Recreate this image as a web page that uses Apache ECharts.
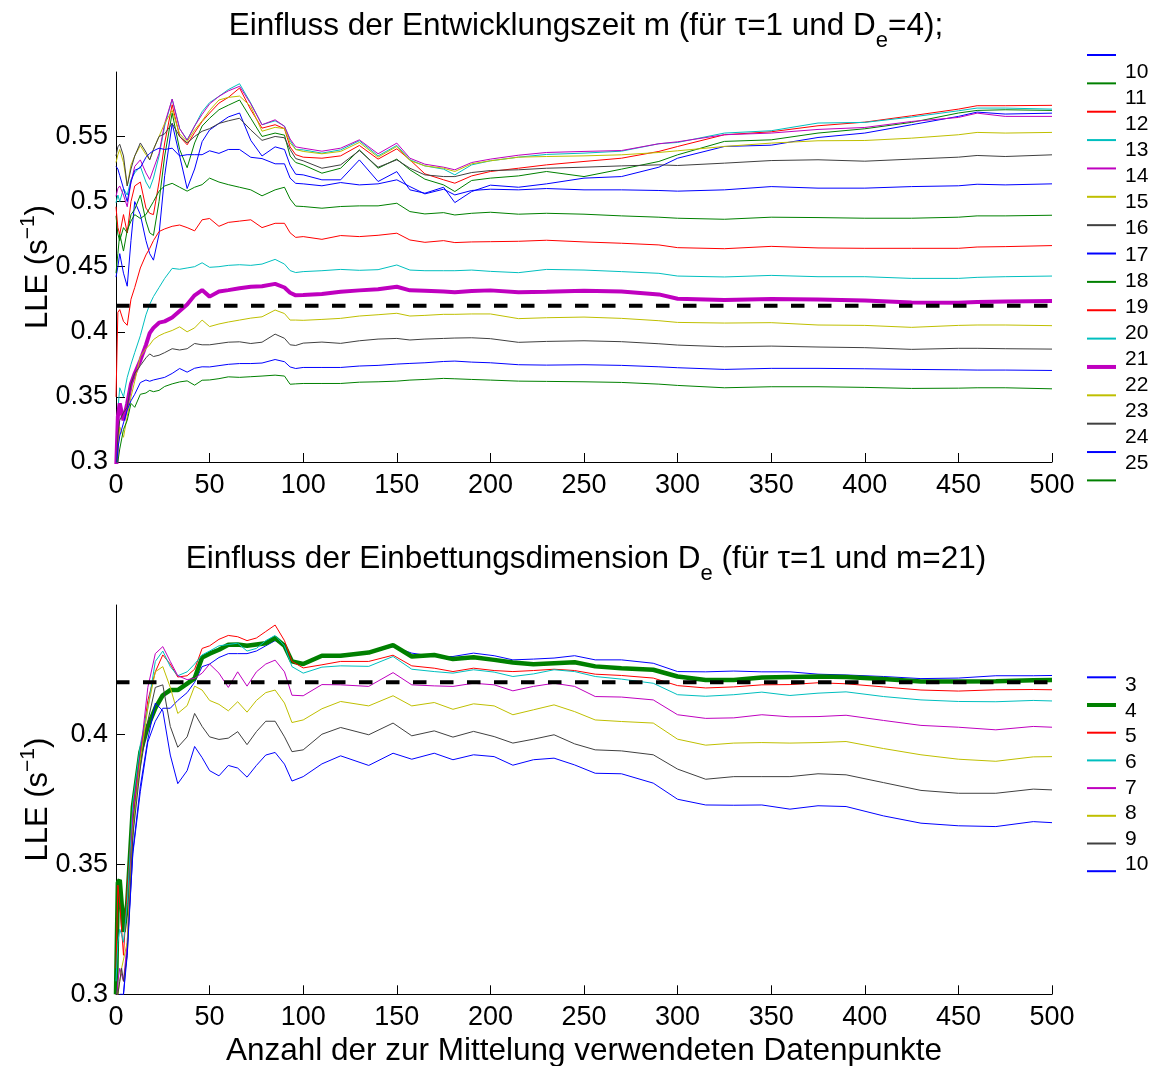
<!DOCTYPE html>
<html>
<head>
<meta charset="utf-8">
<title>LLE</title>
<script src="https://cdn.jsdelivr.net/npm/echarts@6/dist/echarts.min.js"></script>
<style>
html, body { margin: 0; padding: 0; background: #fff; }
#main { width: 1156px; height: 1066px; }
</style>
</head>
<body>
<div id="main"></div>
<script>
var xTop = [0, 1, 2, 4, 6, 8, 10, 13, 16, 18, 20, 23, 26, 30, 34, 38, 42, 46, 50, 55, 60,
    66, 72, 78, 85, 90, 93, 96, 100, 110, 120, 130, 140, 150, 157, 165, 175, 181, 190, 200,
    215, 230, 250, 270, 290, 300, 325, 350, 375, 400, 425, 450, 460, 475, 500];

// upper plot: Entwicklungszeit m = 10 ... 25
var m10 = [0.442, 0.45, 0.46, 0.445, 0.435, 0.47, 0.50, 0.49, 0.47, 0.46, 0.455, 0.475, 0.52, 0.560,
    0.535, 0.510, 0.525, 0.546, 0.555, 0.560, 0.565, 0.568, 0.547, 0.535, 0.542, 0.540, 0.528, 0.521,
    0.5205, 0.5167, 0.5167, 0.532, 0.5154, 0.523, 0.509, 0.5064, 0.511, 0.4992, 0.5077, 0.5126, 0.511, 0.5136,
    0.518, 0.5192, 0.5264, 0.5333, 0.5423, 0.5433, 0.5492, 0.5526, 0.559, 0.5654, 0.5687, 0.5672, 0.5679];
var m11 = [0.489, 0.475, 0.47, 0.48, 0.476, 0.49, 0.494, 0.505, 0.485, 0.476, 0.474, 0.50, 0.535, 0.568,
    0.54, 0.526, 0.545, 0.558, 0.564, 0.5705, 0.574, 0.578, 0.564, 0.55, 0.5526, 0.551, 0.535, 0.530,
    0.5282, 0.5218, 0.5256, 0.5397, 0.5256, 0.5326, 0.5244, 0.5172, 0.5128, 0.5077, 0.5162, 0.518, 0.5197, 0.5231,
    0.5192, 0.5249, 0.5308, 0.5359, 0.5462, 0.5474, 0.5526, 0.5559, 0.5608, 0.568, 0.570, 0.5705, 0.570];
var m12 = [0.496, 0.48, 0.475, 0.49, 0.476, 0.50, 0.512, 0.515, 0.495, 0.491, 0.49, 0.515, 0.545, 0.5744,
    0.55, 0.5436, 0.553, 0.5615, 0.568, 0.5756, 0.580, 0.5872, 0.5705, 0.5564, 0.559, 0.556, 0.542, 0.536,
    0.5341, 0.5333, 0.5351, 0.5431, 0.5326, 0.5405, 0.5321, 0.5213, 0.5167, 0.5141, 0.5197, 0.5231, 0.5256, 0.5282,
    0.5308, 0.5333, 0.5385, 0.5423, 0.5513, 0.5536, 0.5582, 0.561, 0.5659, 0.571, 0.5736, 0.5736, 0.5739];
var m13 = [0.499, 0.505, 0.50, 0.51, 0.505, 0.517, 0.522, 0.527, 0.515, 0.51, 0.518, 0.535, 0.558, 0.5787,
    0.556, 0.5474, 0.558, 0.569, 0.576, 0.5808, 0.586, 0.5905, 0.5756, 0.559, 0.562, 0.558, 0.547, 0.540,
    0.5397, 0.5372, 0.5397, 0.5467, 0.5351, 0.5431, 0.5321, 0.5274, 0.5249, 0.5205, 0.5282, 0.5313, 0.5341, 0.5362,
    0.5372, 0.5387, 0.5444, 0.5454, 0.5526, 0.5544, 0.5603, 0.5608, 0.5649, 0.5697, 0.5718, 0.5718, 0.571];
var m14 = [0.504, 0.51, 0.512, 0.505, 0.496, 0.515, 0.527, 0.532, 0.522, 0.517, 0.525, 0.537, 0.560, 0.5787,
    0.556, 0.547, 0.558, 0.567, 0.575, 0.5808, 0.585, 0.5885, 0.575, 0.559, 0.5628, 0.5577, 0.548, 0.542,
    0.541, 0.5387, 0.541, 0.5474, 0.5367, 0.5449, 0.5333, 0.5287, 0.5264, 0.5244, 0.530, 0.5326, 0.5356, 0.5377,
    0.5385, 0.5392, 0.5444, 0.5459, 0.5513, 0.5526, 0.5554, 0.5569, 0.5615, 0.5646, 0.5679, 0.5654, 0.5654];
var m15 = [0.530, 0.536, 0.540, 0.530, 0.512, 0.528, 0.535, 0.543, 0.536, 0.532, 0.540, 0.550, 0.560, 0.570,
    0.552, 0.546, 0.555, 0.562, 0.570, 0.578, 0.580, 0.581, 0.573, 0.554, 0.557, 0.556, 0.545, 0.540,
    0.5385, 0.5367, 0.5385, 0.5454, 0.5341, 0.5423, 0.5315, 0.5274, 0.5256, 0.5231, 0.529, 0.5313, 0.5341, 0.5346,
    0.5351, 0.5359, 0.5377, 0.539, 0.5423, 0.5449, 0.5467, 0.5469, 0.5487, 0.5513, 0.5531, 0.5526, 0.5531];
var m16 = [0.535, 0.542, 0.544, 0.535, 0.512, 0.525, 0.535, 0.545, 0.538, 0.532, 0.540, 0.550, 0.552, 0.560,
    0.550, 0.545, 0.550, 0.554, 0.556, 0.560, 0.562, 0.564, 0.555, 0.547, 0.550, 0.549, 0.540, 0.533,
    0.5313, 0.5256, 0.5282, 0.5392, 0.5264, 0.5321, 0.5256, 0.5205, 0.5192, 0.5192, 0.5223, 0.5238, 0.5244, 0.5256,
    0.5264, 0.5274, 0.5282, 0.5277, 0.5295, 0.5315, 0.5321, 0.531, 0.5326, 0.5341, 0.5354, 0.5346, 0.5359];
var m17 = [0.527, 0.525, 0.52, 0.51, 0.50, 0.515, 0.524, 0.526, 0.534, 0.537, 0.539, 0.541, 0.54, 0.541,
    0.535, 0.536, 0.536, 0.536, 0.539, 0.537, 0.540, 0.540, 0.534, 0.533, 0.529, 0.529, 0.518, 0.514,
    0.5136, 0.5121, 0.5146, 0.5128, 0.5136, 0.5167, 0.5115, 0.5059, 0.5095, 0.5051, 0.5085, 0.5095, 0.509, 0.51,
    0.509, 0.509, 0.5085, 0.508, 0.509, 0.5115, 0.5103, 0.5103, 0.5115, 0.5121, 0.5133, 0.5128, 0.5136];
var m18 = [0.445, 0.46, 0.475, 0.462, 0.478, 0.485, 0.49, 0.487, 0.49, 0.495, 0.50, 0.508, 0.512, 0.514,
    0.511, 0.508, 0.511, 0.513, 0.518, 0.515, 0.513, 0.511, 0.509, 0.5044, 0.509, 0.511, 0.502, 0.4965,
    0.4962, 0.4949, 0.4962, 0.4967, 0.4967, 0.4987, 0.4923, 0.4905, 0.4915, 0.4897, 0.491, 0.4918, 0.4903, 0.491,
    0.4903, 0.489, 0.488, 0.4872, 0.4864, 0.488, 0.4877, 0.4872, 0.4872, 0.488, 0.489, 0.489, 0.4895];
var m19 = [0.35, 0.415, 0.417, 0.408, 0.405, 0.425, 0.434, 0.449, 0.459, 0.464, 0.470, 0.477, 0.479, 0.481,
    0.482, 0.480, 0.4775, 0.486, 0.487, 0.481, 0.484, 0.485, 0.486, 0.480, 0.4833, 0.4833, 0.476, 0.4725,
    0.4731, 0.471, 0.4739, 0.4731, 0.4741, 0.4757, 0.4705, 0.4687, 0.470, 0.4685, 0.469, 0.4692, 0.4695, 0.4703,
    0.469, 0.468, 0.4667, 0.4646, 0.4638, 0.4656, 0.4644, 0.4641, 0.4641, 0.4641, 0.4651, 0.4654, 0.4662];
var m20 = [0.30, 0.34, 0.357, 0.35, 0.365, 0.375, 0.384, 0.397, 0.413, 0.421, 0.427, 0.434, 0.441, 0.4487,
    0.448, 0.449, 0.450, 0.453, 0.4495, 0.450, 0.451, 0.4515, 0.451, 0.452, 0.4556, 0.452, 0.447, 0.4455,
    0.4462, 0.4469, 0.4479, 0.4472, 0.4477, 0.4513, 0.4474, 0.4469, 0.4469, 0.4469, 0.4474, 0.4464, 0.4454, 0.4479,
    0.4474, 0.4462, 0.4449, 0.4428, 0.4421, 0.4433, 0.4423, 0.4423, 0.441, 0.441, 0.4418, 0.4423, 0.4428];
var m21 = [0.29, 0.335, 0.345, 0.332, 0.345, 0.36, 0.368, 0.378, 0.39, 0.399, 0.403, 0.407, 0.408, 0.411,
    0.416, 0.421, 0.428, 0.432, 0.427, 0.431, 0.432, 0.4335, 0.4345, 0.435, 0.4368, 0.434, 0.430, 0.428,
    0.4282, 0.429, 0.4308, 0.4318, 0.4326, 0.4346, 0.4318, 0.4315, 0.431, 0.4303, 0.4313, 0.4318, 0.4303, 0.4308,
    0.4316, 0.431, 0.4287, 0.4254, 0.4244, 0.4251, 0.4247, 0.424, 0.4225, 0.4223, 0.4228, 0.4232, 0.4236];
var m22 = [0.29, 0.31, 0.327, 0.319, 0.335, 0.35, 0.362, 0.381, 0.387, 0.39, 0.394, 0.397, 0.399, 0.401,
    0.4038, 0.40, 0.403, 0.409, 0.404, 0.406, 0.4075, 0.409, 0.4105, 0.4115, 0.4167, 0.414, 0.409, 0.409,
    0.4088, 0.4095, 0.4103, 0.4121, 0.4131, 0.4142, 0.4121, 0.4126, 0.4134, 0.4134, 0.4137, 0.4137, 0.4101, 0.4108,
    0.4113, 0.4103, 0.4085, 0.4072, 0.4067, 0.407, 0.4052, 0.4049, 0.4034, 0.4049, 0.4052, 0.4052, 0.4047];
var m23 = [0.29, 0.32, 0.332, 0.338, 0.342, 0.36, 0.368, 0.374, 0.38, 0.383, 0.381, 0.382, 0.384, 0.387,
    0.386, 0.387, 0.391, 0.39, 0.39, 0.391, 0.392, 0.3923, 0.391, 0.392, 0.3982, 0.395, 0.39, 0.3895,
    0.3913, 0.3921, 0.3911, 0.3931, 0.3944, 0.3949, 0.3937, 0.3944, 0.3949, 0.3952, 0.3954, 0.3947, 0.3919, 0.3926,
    0.3931, 0.3924, 0.3908, 0.3898, 0.3885, 0.389, 0.3883, 0.3878, 0.3865, 0.3873, 0.3873, 0.387, 0.3867];
var m24 = [0.29, 0.31, 0.32, 0.33, 0.34, 0.347, 0.352, 0.361, 0.363, 0.362, 0.363, 0.364, 0.365, 0.368,
    0.3718, 0.369, 0.372, 0.3731, 0.373, 0.374, 0.375, 0.3756, 0.3756, 0.376, 0.3787, 0.377, 0.373, 0.3718,
    0.3726, 0.3726, 0.3726, 0.3737, 0.3742, 0.3752, 0.3757, 0.3762, 0.3772, 0.3775, 0.3767, 0.3762, 0.3747, 0.3744,
    0.3747, 0.3742, 0.3731, 0.3724, 0.3711, 0.3719, 0.3719, 0.3716, 0.3711, 0.3708, 0.3706, 0.3706, 0.3703];
var m25 = [0.29, 0.30, 0.31, 0.325, 0.332, 0.345, 0.342, 0.352, 0.353, 0.355, 0.354, 0.355, 0.358, 0.36,
    0.3615, 0.3623, 0.359, 0.3628, 0.363, 0.364, 0.3654, 0.365, 0.3655, 0.366, 0.3667, 0.366, 0.3597, 0.36,
    0.3603, 0.3603, 0.3603, 0.3613, 0.3616, 0.3621, 0.3629, 0.3634, 0.3642, 0.3639, 0.3634, 0.3629, 0.3621, 0.3619,
    0.3616, 0.3611, 0.3598, 0.3588, 0.357, 0.3578, 0.3578, 0.3573, 0.3565, 0.3567, 0.357, 0.357, 0.3562];

var xBottom = [0, 1, 2, 3, 4, 6, 9, 13, 17, 21, 25, 29, 33, 38, 42, 46, 50, 55, 60, 65, 70,
    75, 80, 85, 90, 94, 100, 110, 120, 135, 148, 158, 170, 180, 191, 202, 212, 223, 234, 245, 256,
    270, 287, 300, 315, 330, 345, 360, 375, 390, 410, 430, 450, 470, 490, 500];

// lower plot: Einbettungsdimension De = 3 ... 10
var de3 = [0.29, 0.295, 0.30, 0.30, 0.30, 0.318, 0.354, 0.378, 0.397, 0.405, 0.410, 0.410, 0.413, 0.416,
    0.420, 0.426, 0.427, 0.4295, 0.431, 0.431, 0.431, 0.432, 0.434, 0.436, 0.434, 0.428, 0.427,
    0.4302, 0.4307, 0.4312, 0.4337, 0.4312, 0.4299, 0.4299, 0.4312, 0.4302, 0.4286, 0.4289, 0.4293, 0.4302, 0.4286,
    0.4286, 0.4273, 0.4241,
    0.424, 0.4243, 0.424, 0.424, 0.4231, 0.4228, 0.4222, 0.4214, 0.4216, 0.4225, 0.4225, 0.4226];
var de4 = [0.30, 0.343, 0.344, 0.335, 0.324, 0.335, 0.372, 0.393, 0.403, 0.410, 0.415, 0.417, 0.417, 0.4195,
    0.4215, 0.4295, 0.431, 0.4325, 0.4344, 0.4345, 0.434, 0.4345, 0.435, 0.437, 0.434, 0.428, 0.427,
    0.4302, 0.4302, 0.4314, 0.4343, 0.4299, 0.4305, 0.4289, 0.4296, 0.4286, 0.4276, 0.4269, 0.4273, 0.4277, 0.4261,
    0.4254, 0.4248, 0.4222,
    0.4209, 0.4209, 0.4218, 0.422, 0.4222, 0.422, 0.4212, 0.4203, 0.4203, 0.4204, 0.4208, 0.4209];
var de5 = [0.31, 0.342, 0.335, 0.325, 0.315, 0.34, 0.371, 0.392, 0.413, 0.424, 0.4305, 0.427, 0.422, 0.4225,
    0.425, 0.433, 0.434, 0.4365, 0.438, 0.4375, 0.436, 0.437, 0.4395, 0.442, 0.436, 0.428, 0.4255,
    0.4267, 0.428, 0.428, 0.4304, 0.4263, 0.4254, 0.4241, 0.4254, 0.4245, 0.4241, 0.4245, 0.425, 0.4245, 0.4231,
    0.4226, 0.4216, 0.4187,
    0.4178, 0.4182, 0.419, 0.4191, 0.4198, 0.4194, 0.4182, 0.417, 0.4166, 0.4171, 0.4172, 0.4171];
var de6 = [0.305, 0.32, 0.325, 0.323, 0.32, 0.335, 0.374, 0.396, 0.41, 0.428, 0.432, 0.426, 0.4225, 0.424,
    0.427, 0.4305, 0.432, 0.434, 0.4345, 0.435, 0.432, 0.433, 0.436, 0.438, 0.434, 0.426, 0.4235,
    0.4258, 0.4263, 0.4261, 0.4299, 0.425, 0.4241, 0.4235, 0.4248, 0.4239, 0.4222, 0.4232, 0.4248, 0.4241, 0.4222,
    0.4212, 0.4196, 0.4152,
    0.4146, 0.4152, 0.4162, 0.4149, 0.4158, 0.4163, 0.4145, 0.4132, 0.4126, 0.4125, 0.413, 0.4128];
var de7 = [0.295, 0.305, 0.31, 0.31, 0.305, 0.32, 0.369, 0.392, 0.418, 0.431, 0.4337, 0.428, 0.4225, 0.421,
    0.4215, 0.4235, 0.427, 0.4235, 0.418, 0.424, 0.4185, 0.424, 0.427, 0.4285, 0.424, 0.415, 0.4148,
    0.4191, 0.419, 0.4184, 0.4237, 0.419, 0.4186, 0.4184, 0.4196, 0.419, 0.4167, 0.4184, 0.4196, 0.4184, 0.4145,
    0.4143, 0.4132, 0.4075,
    0.4061, 0.4063, 0.4075, 0.4067, 0.4068, 0.4073, 0.4053, 0.4034, 0.4027, 0.4017, 0.403, 0.4027];
var de8 = [0.29, 0.30, 0.305, 0.31, 0.31, 0.32, 0.363, 0.39, 0.41, 0.424, 0.426, 0.418, 0.408, 0.411,
    0.4185, 0.417, 0.413, 0.4115, 0.409, 0.4125, 0.4085, 0.413, 0.416, 0.417, 0.412, 0.4045, 0.4055,
    0.4098, 0.4126, 0.4109, 0.4148, 0.4109, 0.4122, 0.4096, 0.4117, 0.4109, 0.4075, 0.4094, 0.4113, 0.4087, 0.4055,
    0.4049, 0.4043, 0.3981,
    0.3958, 0.3966, 0.3968, 0.3966, 0.3968, 0.3972, 0.3945, 0.3921, 0.3904, 0.3896, 0.3913, 0.3914];
var de9 = [0.29, 0.30, 0.305, 0.31, 0.305, 0.315, 0.361, 0.387, 0.405, 0.418, 0.419, 0.403, 0.395, 0.399,
    0.408, 0.403, 0.399, 0.398, 0.3985, 0.401, 0.396, 0.401, 0.405, 0.405, 0.399, 0.3933, 0.394,
    0.400, 0.4026, 0.3998, 0.4043, 0.3994, 0.4013, 0.3989, 0.4011, 0.3991, 0.3966, 0.3981, 0.3998, 0.3963, 0.394,
    0.3936, 0.3921, 0.3866,
    0.3827, 0.3837, 0.3837, 0.3837, 0.3848, 0.3844, 0.3814, 0.3784, 0.3773, 0.3773, 0.3789, 0.3786];
var de10 = [0.28, 0.29, 0.295, 0.298, 0.30, 0.315, 0.355, 0.38, 0.398, 0.412, 0.409, 0.392, 0.381, 0.386,
    0.3953, 0.391, 0.386, 0.384, 0.388, 0.387, 0.3835, 0.388, 0.392, 0.393, 0.3885, 0.382, 0.3837,
    0.3886, 0.3917, 0.388, 0.3927, 0.3904, 0.3927, 0.3902, 0.3921, 0.3914, 0.3881, 0.3902, 0.3908, 0.3882, 0.385,
    0.3848, 0.3812, 0.375,
    0.3728, 0.3727, 0.3728, 0.3712, 0.3725, 0.3722, 0.3686, 0.3658, 0.3648, 0.3645, 0.3664, 0.366];

var topLabels = ['10', '11', '12', '13', '14', '15', '16', '17', '18', '19', '20', '21', '22', '23', '24', '25'];
var topValues = [m10, m11, m12, m13, m14, m15, m16, m17, m18, m19, m20, m21, m22, m23, m24, m25];
var bottomLabels = ['3', '4', '5', '6', '7', '8', '9', '10'];
var bottomValues = [de3, de4, de5, de6, de7, de8, de9, de10];
var topHighlight = '21';
var bottomHighlight = '4';

var yTicksTop = [0.3, 0.35, 0.4, 0.45, 0.5, 0.55];
var yTicksBottom = [0.3, 0.35, 0.4];
var lleRef = 0.42;

var matlabColors = ['#0000ff', '#008000', '#ff0000', '#00bfbf', '#bf00bf', '#bfbf00', '#404040'];
var FONT = '"Liberation Sans", Arial, Helvetica, sans-serif';

var chart = echarts.init(document.getElementById('main'), null, { renderer: 'canvas' });

function pairs(xs, ys) {
    return xs.map(function (x, i) { return [x, ys[i]]; });
}

function curve(name, xs, ys, color, width, idx) {
    return {
        name: name,
        type: 'line',
        xAxisIndex: idx,
        yAxisIndex: idx,
        data: pairs(xs, ys),
        symbol: 'none',
        clip: true,
        silent: true,
        color: color,
        itemStyle: { color: color },
        lineStyle: { color: color, width: width },
        emphasis: { disabled: true }
    };
}

function refLine(idx) {
    return {
        type: 'line',
        xAxisIndex: idx,
        yAxisIndex: idx,
        data: [[0, lleRef], [500, lleRef]],
        symbol: 'none',
        silent: true,
        z: 5,
        lineStyle: { color: '#000', width: 4, type: [13.5, 13.5] }
    };
}

var series = [];
topLabels.forEach(function (lab, i) {
    series.push(curve('m' + lab, xTop, topValues[i], matlabColors[i % 7], lab === topHighlight ? 4 : 1, 0));
});
series.push(refLine(0));
bottomLabels.forEach(function (lab, i) {
    series.push(curve('De' + lab, xBottom, bottomValues[i], matlabColors[i % 7], lab === bottomHighlight ? 4.5 : 1, 1));
});
series.push(refLine(1));

function xAxis(idx, name) {
    return {
        type: 'value', gridIndex: idx, min: 0, max: 500, interval: 50,
        axisLine: { show: true, onZero: false, lineStyle: { color: '#000', width: 1 } },
        axisTick: { show: true, inside: true, length: 9, lineStyle: { color: '#000' } },
        axisLabel: { color: '#000', fontSize: 27, margin: 10, fontFamily: FONT },
        splitLine: { show: false },
        name: name || '',
        nameLocation: 'middle',
        nameGap: 41,
        nameMoveOverlap: false,
        nameTextStyle: { color: '#000', fontSize: 31.5, fontFamily: FONT }
    };
}

function yAxis(idx, max, ticks) {
    return {
        type: 'value', gridIndex: idx, min: 0.3, max: max, interval: 0.05,
        axisLine: { show: true, onZero: false, lineStyle: { color: '#000', width: 1 } },
        axisTick: { show: true, inside: true, length: 9, lineStyle: { color: '#000' }, customValues: ticks },
        axisLabel: {
            color: '#000', fontSize: 27, margin: 8, fontFamily: FONT, customValues: ticks,
            formatter: function (v) {
                var k = v / 0.05;
                if (Math.abs(k - Math.round(k)) > 1e-6) return '';
                return String(+v.toFixed(2));
            }
        },
        splitLine: { show: false },
        name: 'LLE (s{sup|\u22121})',
        nameLocation: 'middle',
        nameGap: 58,
        nameMoveOverlap: false,
        nameTextStyle: {
            color: '#000', fontSize: 31, lineHeight: 40, fontFamily: FONT,
            rich: { sup: { fontSize: 21, lineHeight: 21, verticalAlign: 'top', fontFamily: FONT, color: '#000' } }
        }
    };
}

function titleAt(text, top) {
    return {
        text: text, left: 586, top: top, textAlign: 'center', padding: 0,
        textStyle: {
            color: '#000', fontSize: 31.5, fontWeight: 'normal', lineHeight: 36, fontFamily: FONT,
            rich: { sub: { fontSize: 22, lineHeight: 22, padding: [22, 0, 0, 0], verticalAlign: 'top', fontFamily: FONT, color: '#000' } }
        }
    };
}

function stripPrefix(name) { return name.replace(/^(m|De)/, ''); }

// legend samples (lines only); the symbol of the line icon is hidden,
// the highlighted curve gets a thick sample like in the plot
function legendLines(names, highlight, top, gap) {
    return {
        data: names.map(function (n) {
            return stripPrefix(n) === highlight ? { name: n, lineStyle: { width: 4 } } : { name: n };
        }),
        orient: 'vertical', left: 1085, top: top, padding: 0,
        itemGap: gap, itemWidth: 29, itemHeight: 14, selectedMode: false,
        itemStyle: { opacity: 0 },
        formatter: function () { return ''; },
        textStyle: { fontSize: 10, lineHeight: 10 }
    };
}

// legend labels, spaced a bit tighter than the samples like in the original figure
function legendTexts(names, top, gap) {
    return {
        data: names, orient: 'vertical', left: 1119, top: top, padding: 0,
        itemGap: gap, itemWidth: 1, itemHeight: 21, icon: 'rect', selectedMode: false,
        itemStyle: { opacity: 0 }, lineStyle: { opacity: 0 },
        formatter: stripPrefix,
        textStyle: { color: '#000', fontSize: 21, lineHeight: 21, fontFamily: FONT }
    };
}

var topNames = topLabels.map(function (l) { return 'm' + l; });
var bottomNames = bottomLabels.map(function (l) { return 'De' + l; });

var option = {
    animation: false,
    backgroundColor: '#fff',
    textStyle: { fontFamily: FONT },
    title: [
        titleAt('Einfluss der Entwicklungszeit m (für τ=1 und D{sub|e}=4);', 8),
        titleAt('Einfluss der Einbettungsdimension D{sub|e} (für τ=1 und m=21)', 541)
    ],
    legend: [
        legendLines(topNames, topHighlight, 49.4, 17.16),
        legendTexts(topNames, 62, 5.03),
        legendLines(bottomNames, bottomHighlight, 671.7, 16.5),
        legendTexts(bottomNames, 675, 4.57)
    ],
    grid: [
        { left: 116, top: 72, width: 936, height: 390, outerBoundsMode: 'none', containLabel: false },
        { left: 116, top: 605, width: 936, height: 389.3, outerBoundsMode: 'none', containLabel: false }
    ],
    xAxis: [xAxis(0), xAxis(1, 'Anzahl der zur Mittelung verwendeten Datenpunkte')],
    yAxis: [yAxis(0, 0.5995, yTicksTop), yAxis(1, 0.4497, yTicksBottom)],
    series: series
};

chart.setOption(option);
</script>
</body>
</html>
